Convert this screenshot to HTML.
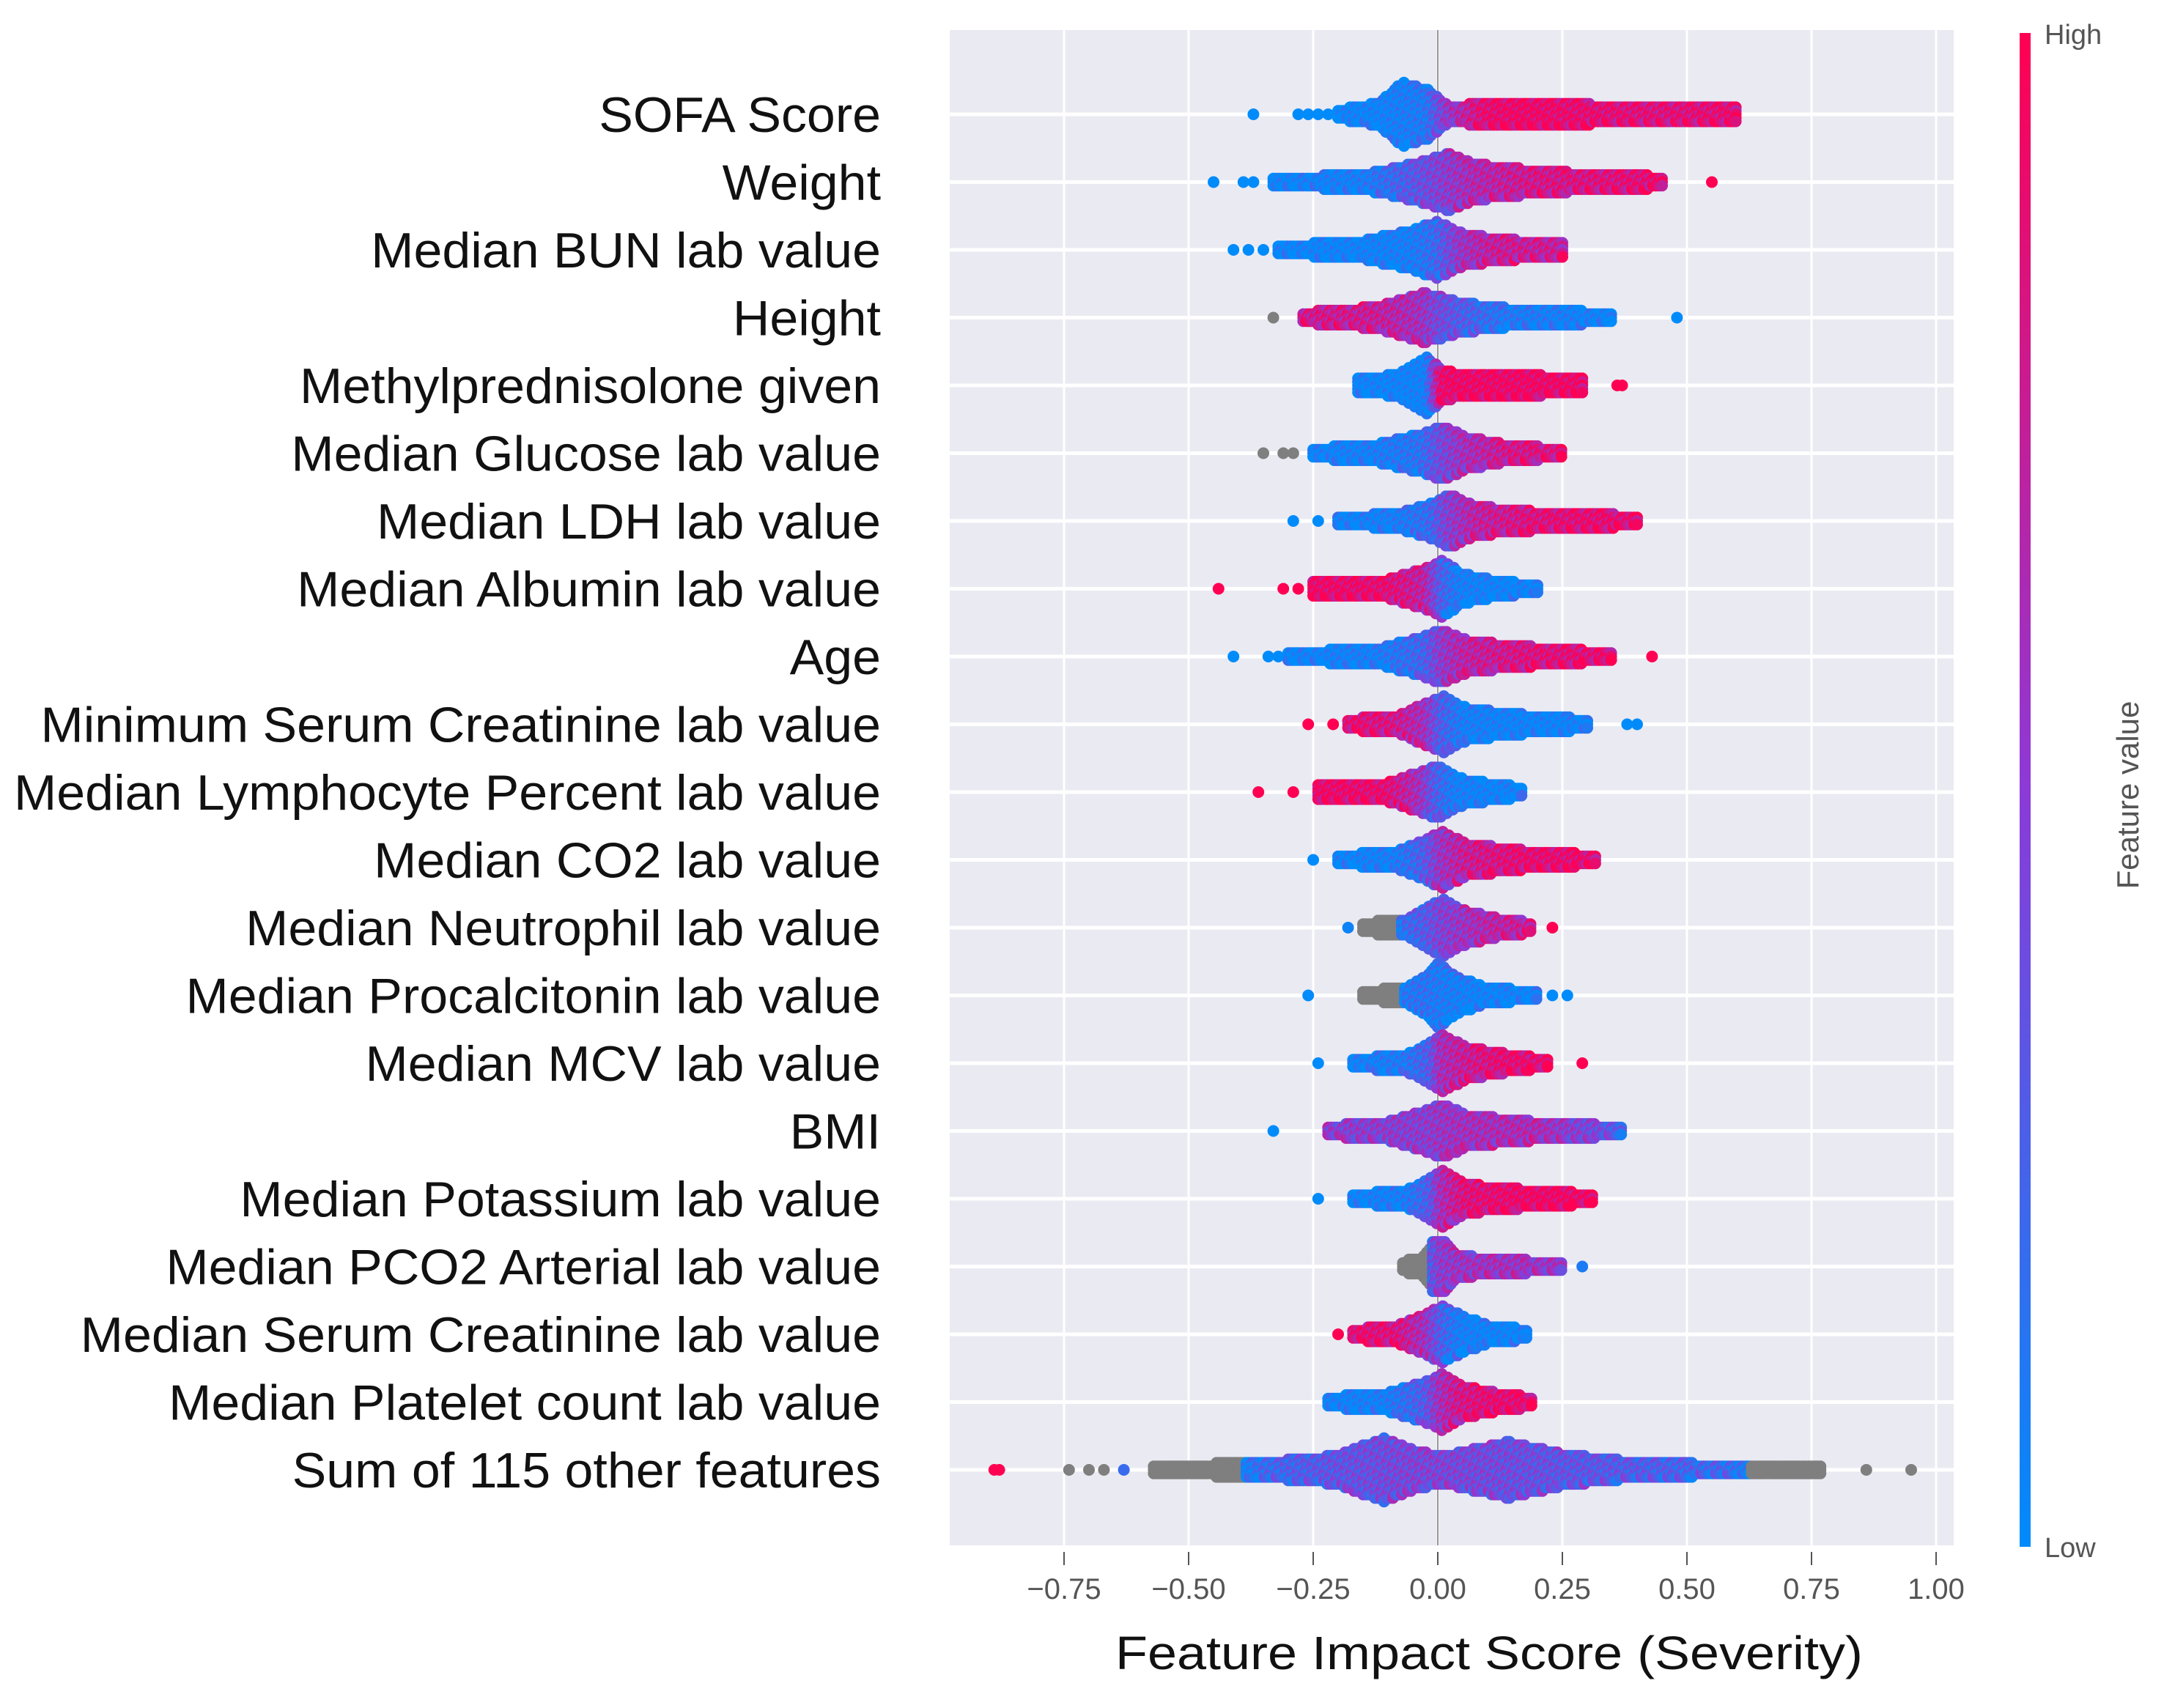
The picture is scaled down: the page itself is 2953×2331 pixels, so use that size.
<!DOCTYPE html>
<html><head><meta charset="utf-8">
<style>
html,body{margin:0;padding:0;background:#fff;}
svg{display:block;}
text{font-family:"Liberation Sans",sans-serif;}
</style></head>
<body>
<svg id="chart" width="2953" height="2331" viewBox="0 0 2953 2331" xmlns="http://www.w3.org/2000/svg">
  <defs>
    <linearGradient id="cbar" x1="0" y1="1" x2="0" y2="0">
      <stop offset="0" stop-color="#008bfb"/>
      <stop offset="0.5" stop-color="#8c3ad8"/>
      <stop offset="1" stop-color="#ff0052"/>
    </linearGradient>
  </defs>
  <rect x="1296" y="41" width="1370" height="2068" fill="#eaeaf2"/>
  <g id="grid"></g>
  <g id="dots"></g>
  <g id="labels"></g>
  <g id="xaxis"></g>
  <text x="2032" y="2278" text-anchor="middle" font-size="64" fill="#111" id="xtitle">Feature Impact Score (Severity)</text>
  <rect x="2756" y="45" width="15" height="2066" fill="url(#cbar)"/>
  <text x="2790" y="60" font-size="38" fill="#555">High</text>
  <text x="2790" y="2125" font-size="38" fill="#555">Low</text>
  <text x="2918" y="1085" font-size="42" fill="#555" text-anchor="middle" transform="rotate(-90 2918 1085)">Feature value</text>
</svg>
<script>
const features = ["SOFA Score","Weight","Median BUN lab value","Height","Methylprednisolone given","Median Glucose lab value","Median LDH lab value","Median Albumin lab value","Age","Minimum Serum Creatinine lab value","Median Lymphocyte Percent lab value","Median CO2 lab value","Median Neutrophil lab value","Median Procalcitonin lab value","Median MCV lab value","BMI","Median Potassium lab value","Median PCO2 Arterial lab value","Median Serum Creatinine lab value","Median Platelet count lab value","Sum of 115 other features"];
const tickValues = [-0.75,-0.5,-0.25,0,0.25,0.5,0.75,1.0];
const tickLabels = ["\u22120.75","\u22120.50","\u22120.25","0.00","0.25","0.50","0.75","1.00"];
const profX = [
 [-0.2,-0.12,-0.07,-0.02,0.02,0.1,0.17,0.3,0.45,0.6],
 [-0.33,-0.15,-0.05,0.02,0.08,0.2,0.35,0.45],
 [-0.32,-0.15,-0.05,0.0,0.05,0.12,0.25],
 [-0.27,-0.12,-0.03,0.0,0.05,0.15,0.35],
 [-0.16,-0.08,-0.02,0.01,0.03,0.15,0.29],
 [-0.25,-0.12,-0.03,0.01,0.06,0.15,0.25],
 [-0.2,-0.08,-0.01,0.02,0.08,0.2,0.32,0.4],
 [-0.25,-0.1,-0.02,0.01,0.05,0.12,0.2],
 [-0.3,-0.12,-0.02,0.01,0.06,0.2,0.35],
 [-0.18,-0.08,-0.02,0.01,0.06,0.18,0.3],
 [-0.24,-0.1,-0.03,0.0,0.04,0.1,0.17],
 [-0.2,-0.08,-0.02,0.01,0.06,0.18,0.32],
 [-0.15,-0.06,-0.02,0.01,0.05,0.12,0.19],
 [-0.15,-0.06,-0.02,0.0,0.04,0.1,0.2],
 [-0.17,-0.06,-0.01,0.01,0.06,0.14,0.22],
 [-0.22,-0.1,-0.02,0.01,0.06,0.2,0.37],
 [-0.17,-0.06,-0.01,0.01,0.06,0.18,0.31],
 [-0.07,-0.03,-0.01,0.01,0.04,0.12,0.25],
 [-0.17,-0.08,-0.02,0.01,0.05,0.1,0.18],
 [-0.22,-0.1,-0.02,0.01,0.05,0.12,0.19],
 [-0.57,-0.35,-0.2,-0.11,-0.04,0.02,0.14,0.25,0.4,0.6,0.77]
];
const profH = [
 [0.05,0.15,0.45,0.35,0.12,0.14,0.17,0.13,0.12,0.08],
 [0.05,0.1,0.25,0.4,0.25,0.15,0.1,0.07],
 [0.05,0.12,0.28,0.4,0.22,0.15,0.08],
 [0.06,0.15,0.35,0.3,0.2,0.12,0.06],
 [0.08,0.15,0.4,0.2,0.18,0.15,0.1],
 [0.06,0.12,0.28,0.38,0.22,0.1,0.06],
 [0.05,0.1,0.25,0.38,0.2,0.12,0.1,0.05],
 [0.08,0.12,0.3,0.4,0.2,0.1,0.05],
 [0.06,0.1,0.3,0.38,0.22,0.12,0.05],
 [0.06,0.12,0.3,0.4,0.22,0.12,0.06],
 [0.08,0.12,0.3,0.38,0.2,0.12,0.06],
 [0.05,0.12,0.3,0.4,0.22,0.12,0.06],
 [0.06,0.12,0.3,0.4,0.25,0.12,0.06],
 [0.06,0.1,0.3,0.45,0.25,0.1,0.05],
 [0.05,0.12,0.3,0.4,0.22,0.12,0.05],
 [0.06,0.12,0.3,0.38,0.22,0.12,0.06],
 [0.05,0.12,0.3,0.4,0.2,0.12,0.06],
 [0.06,0.12,0.35,0.38,0.15,0.1,0.05],
 [0.06,0.12,0.3,0.4,0.25,0.12,0.06],
 [0.06,0.12,0.3,0.4,0.22,0.12,0.06],
 [0.05,0.1,0.2,0.45,0.25,0.2,0.4,0.22,0.1,0.06,0.04]
];
const profC = [
 [0,0,0.05,0.1,0.5,0.9,0.95,0.9,0.85,0.9],
 [0,0.05,0.3,0.5,0.65,0.8,0.85,0.9],
 [0,0,0.05,0.2,0.55,0.75,0.75],
 [0.8,0.75,0.6,0.45,0.3,0.1,0.0],
 [0,0,0.02,0.9,0.95,0.95,0.95],
 [0,0.05,0.15,0.4,0.6,0.8,0.85],
 [0,0.05,0.2,0.45,0.7,0.85,0.9,0.9],
 [0.95,0.9,0.7,0.3,0.05,0,0],
 [0,0.05,0.25,0.5,0.7,0.85,0.9],
 [0.9,0.8,0.6,0.3,0.05,0,0],
 [0.95,0.9,0.6,0.3,0.05,0,0],
 [0,0.05,0.3,0.55,0.75,0.9,0.9],
 [-1,0.2,0.3,0.45,0.55,0.7,0.75],
 [-1,0.1,0.15,0.1,0.05,0,0],
 [0,0.1,0.3,0.6,0.75,0.9,0.9],
 [0.5,0.5,0.5,0.55,0.6,0.65,0.3],
 [0,0.05,0.3,0.6,0.85,0.95,0.95],
 [-1,-1,0.3,0.5,0.55,0.6,0.55],
 [0.9,0.85,0.6,0.3,0.05,0,0],
 [0,0.05,0.3,0.6,0.8,0.9,0.9],
 [-1,0.2,0.35,0.4,0.45,0.45,0.4,0.35,0.3,0.2,-1]
];
const outX = [
 [-0.37,-0.28,-0.26,-0.24,-0.22],
 [-0.45,-0.39,-0.37,0.55],
 [-0.41,-0.38,-0.35],
 [-0.33,0.48],
 [0.36,0.37],
 [-0.35,-0.31,-0.29],
 [-0.29,-0.24],
 [-0.44,-0.31,-0.28],
 [-0.41,-0.34,-0.32,0.43],
 [-0.26,-0.21,0.38,0.4],
 [-0.36,-0.29],
 [-0.25],
 [-0.18,0.23],
 [-0.26,0.23,0.26],
 [-0.24,0.29],
 [-0.33],
 [-0.24],
 [0.29],
 [-0.2],
 [],
 [-0.89,-0.88,-0.74,-0.7,-0.67,-0.63,0.86,0.95]
];
const outC = [
 [0,0,0,0,0],
 [0,0,0,1],
 [0,0,0],
 [-1,0],
 [1,1],
 [-1,-1,-1],
 [0,0],
 [1,1,1],
 [0,0,0,1],
 [1,1,0,0],
 [1,1],
 [0],
 [0.05,1],
 [0,0,0],
 [0,1],
 [0],
 [0],
 [0.1],
 [1],
 [],
 [1,1,-1,-1,-1,0.2,-1,-1]
];

const SVGNS = "http://www.w3.org/2000/svg";
const X0 = 1962, XS = 680, PL = 1296, PR = 2666, PT = 41, PB = 2109;
const Y0 = 156, RS = 92.5, R = 8;
function xScale(v){ return X0 + v*XS; }
function yScale(i){ return Y0 + i*RS; }
function colorOf(c){
  if(c < 0) return "#7f7f7f";
  const a=[0,139,251], m=[140,58,216], b=[255,0,82];
  let r;
  if(c<0.5){ const t=c/0.5; r=a.map((v,k)=>Math.round(v+(m[k]-v)*t)); }
  else { const t=(c-0.5)/0.5; r=m.map((v,k)=>Math.round(v+(b[k]-v)*t)); }
  return "rgb("+r.join(",")+")";
}
function interp(xs, ys, x){
  if(x<=xs[0]) return ys[0];
  for(let i=1;i<xs.length;i++){
    if(x<=xs[i]){ const t=(x-xs[i-1])/(xs[i]-xs[i-1]); return ys[i-1]+(ys[i]-ys[i-1])*t; }
  }
  return ys[ys.length-1];
}
const grid = document.getElementById('grid');
tickValues.forEach((v,i)=>{
  const l=document.createElementNS(SVGNS,'line');
  
  
  l.setAttribute('x1',xScale(v)); l.setAttribute('x2',xScale(v));
  l.setAttribute('y1',PT); l.setAttribute('y2',PB);
  l.setAttribute('stroke','#ffffff'); l.setAttribute('stroke-width','3');
  grid.appendChild(l);
});
features.forEach((f,i)=>{
  const l=document.createElementNS(SVGNS,'line');
  
  
  l.setAttribute('x1',PL); l.setAttribute('x2',PR);
  l.setAttribute('y1',yScale(i)); l.setAttribute('y2',yScale(i));
  l.setAttribute('stroke','#ffffff'); l.setAttribute('stroke-width','5');
  grid.appendChild(l);
});
const zl=document.createElementNS(SVGNS,'line');


zl.setAttribute('x1',xScale(0)); zl.setAttribute('x2',xScale(0));
zl.setAttribute('y1',PT); zl.setAttribute('y2',PB);
zl.setAttribute('stroke','#999'); zl.setAttribute('stroke-width','2');
grid.appendChild(zl);

const dots=document.getElementById('dots');
features.forEach((f,i)=>{
  const g=document.createElementNS(SVGNS,'g');
  
  
  const xs=profX[i], hs=profH[i], cs=profC[i];
  const yc=yScale(i);
  let step=0;
  for(let v=xs[0]; v<=xs[xs.length-1]+1e-9; v+=0.006){
    const h=interp(xs,hs,v)*RS;
    const c=interp(xs,cs,v);
    const dy=R*0.6;
    const n=Math.max(0,Math.round(h/dy));
    for(let k=-n;k<=n;k++){
      let cc=c;
      if(c>=0){ const j=((step*7+k*13+i*5)%9)/9-0.45; cc=Math.min(1,Math.max(0,c+j*0.5)); }
      const e=document.createElementNS(SVGNS,'circle');
      e.setAttribute('cx',xScale(v).toFixed(1));
      e.setAttribute('cy',(yc+k*dy).toFixed(1));
      e.setAttribute('r',R);
      e.setAttribute('fill',colorOf(cc));
      g.appendChild(e);
    }
    step++;
  }
  outX[i].forEach((v,k)=>{
    const e=document.createElementNS(SVGNS,'circle');
    e.setAttribute('cx',xScale(v)); e.setAttribute('cy',yc); e.setAttribute('r',R);
    e.setAttribute('fill',colorOf(outC[i][k]));
    g.appendChild(e);
  });
  dots.appendChild(g);
});

const labels=document.getElementById('labels');
const labelEls=[];
features.forEach((f,i)=>{
  const t=document.createElementNS(SVGNS,'text');
  
  
  t.setAttribute('x',1202); t.setAttribute('y',yScale(i)+24);
  t.setAttribute('text-anchor','end'); t.setAttribute('font-size','68');
  t.setAttribute('fill','#111');
  t.textContent=f;
  labels.appendChild(t); labelEls.push(t);
});
const longest=labelEls[10].getComputedTextLength();
const sx = longest>0 ? 1183/longest : 0.82;
labels.setAttribute('transform','translate(1202 0) scale('+sx+' 1) translate(-1202 0)');
const xt=document.getElementById('xtitle');
xt.setAttribute('textLength', 1020);
xt.setAttribute('lengthAdjust','spacingAndGlyphs');

const xaxis=document.getElementById('xaxis');
tickValues.forEach((v,i)=>{
  const l=document.createElementNS(SVGNS,'line');
  
  
  l.setAttribute('x1',xScale(v)); l.setAttribute('x2',xScale(v));
  l.setAttribute('y1',2118); l.setAttribute('y2',2136);
  l.setAttribute('stroke','#555'); l.setAttribute('stroke-width','2');
  xaxis.appendChild(l);
  const t=document.createElementNS(SVGNS,'text');
  
  
  t.setAttribute('x',xScale(v)); t.setAttribute('y',2182);
  t.setAttribute('text-anchor','middle'); t.setAttribute('font-size','40');
  t.setAttribute('fill','#555');
  t.textContent=tickLabels[i];
  xaxis.appendChild(t);
});
</script>
</body></html>
